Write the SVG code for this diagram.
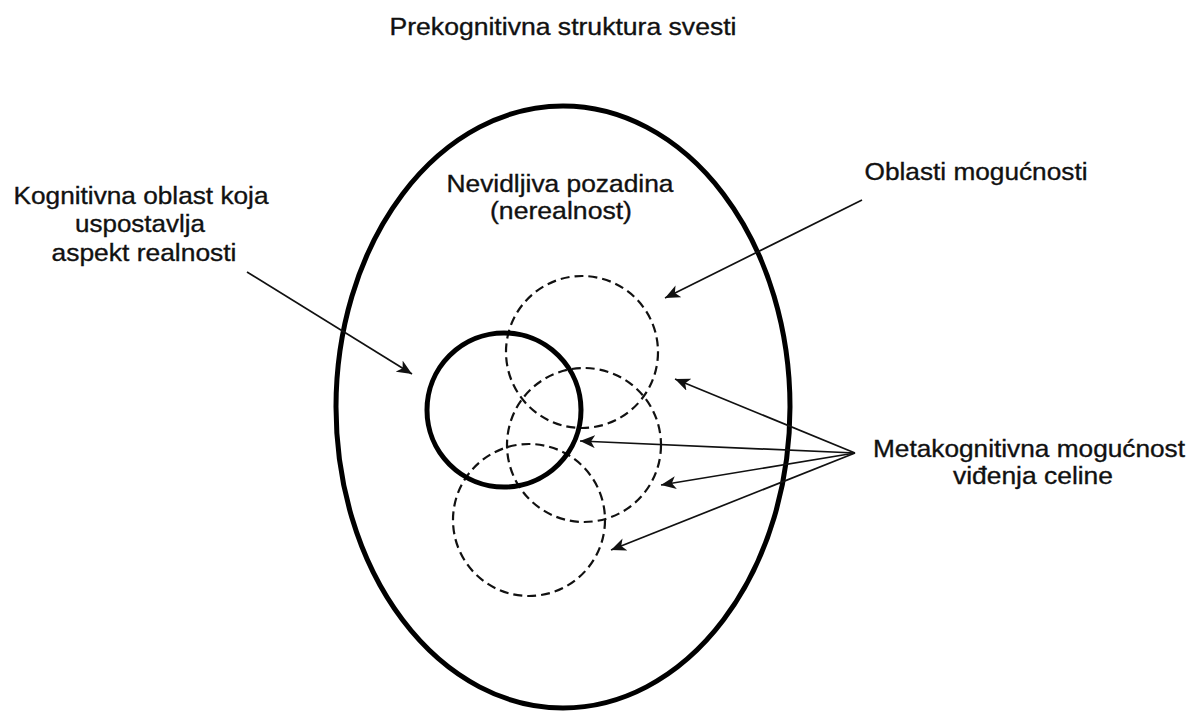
<svg xmlns="http://www.w3.org/2000/svg" width="1191" height="711" viewBox="0 0 1191 711">
<defs>
<style>
.t{font-family:"Liberation Sans",Arial,sans-serif;font-size:24.8px;fill:#111;stroke:#111;stroke-width:0.35;text-anchor:middle}
.solid{fill:none;stroke:#000;stroke-width:5}
.dash{fill:none;stroke:#111;stroke-width:2.2;stroke-dasharray:9 5}
.arr{fill:none;stroke:#111;stroke-width:1.7;marker-end:url(#ah)}
</style>
<marker id="ah" markerUnits="userSpaceOnUse" markerWidth="16" markerHeight="13" refX="15" refY="6.5" orient="auto">
<path d="M0,0 L15,6.5 L0,13 L4,6.5 z" fill="#111"/>
</marker>
</defs>
<rect width="1191" height="711" fill="#fff"/>
<g id="title"><text class="t" x="563" y="35" textLength="347" lengthAdjust="spacingAndGlyphs">Prekognitivna struktura svesti</text></g>
<g id="consciousness"><ellipse class="solid" cx="563" cy="407" rx="227" ry="301"/>
<text class="t" x="560" y="192" textLength="227" lengthAdjust="spacingAndGlyphs">Nevidljiva pozadina</text>
<text class="t" x="561" y="219" textLength="142" lengthAdjust="spacingAndGlyphs">(nerealnost)</text></g>
<g id="possibility1"><circle class="dash" cx="582" cy="352" r="76"/></g>
<g id="possibility2"><circle class="dash" cx="584" cy="445" r="77"/></g>
<g id="possibility3"><circle class="dash" cx="529" cy="520" r="76"/></g>
<g id="cognitive"><circle class="solid" cx="504" cy="410" r="77" stroke-width="4.5"/></g>
<g id="label-kognitivna">
<text class="t" x="141" y="204" textLength="255" lengthAdjust="spacingAndGlyphs">Kognitivna oblast koja</text>
<text class="t" x="140" y="232" textLength="130" lengthAdjust="spacingAndGlyphs">uspostavlja</text>
<text class="t" x="144" y="261" textLength="185" lengthAdjust="spacingAndGlyphs">aspekt realnosti</text></g>
<g id="label-oblasti"><text class="t" x="976" y="180" textLength="223" lengthAdjust="spacingAndGlyphs">Oblasti mogućnosti</text></g>
<g id="label-meta">
<text class="t" x="1029" y="457" textLength="312" lengthAdjust="spacingAndGlyphs">Metakognitivna mogućnost</text>
<text class="t" x="1033" y="484" textLength="160" lengthAdjust="spacingAndGlyphs">viđenja celine</text></g>
<g id="connectors">
<line class="arr" x1="247" y1="272" x2="412" y2="374"/>
<line class="arr" x1="862" y1="200" x2="665" y2="298"/>
<line class="arr" x1="855" y1="453" x2="675" y2="379"/>
<line class="arr" x1="855" y1="453" x2="580" y2="441"/>
<line class="arr" x1="855" y1="453" x2="661" y2="485"/>
<line class="arr" x1="855" y1="453" x2="611" y2="550"/>
</g>
</svg>
